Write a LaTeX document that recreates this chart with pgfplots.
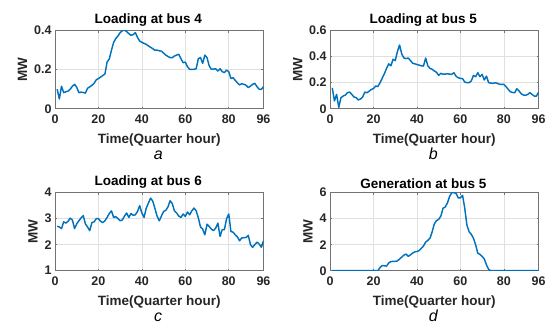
\documentclass[border=0pt]{standalone}
\usepackage{fontspec}
\setmainfont{Liberation Sans}
\usepackage{pgfplots}
\pgfplotsset{compat=1.18}
\definecolor{mblue}{RGB}{0,114,189}
\pgfplotsset{panel/.style={
  width=208.5pt, height=78pt, scale only axis,
  xmin=0, xmax=96, xtick={0,20,40,60,80,96},
  grid=major, major grid style={black!12, line width=0.5pt},
  axis line style={black!55, line width=0.6pt},
  tick style={black!55, line width=0.5pt}, tick align=inside, major tick length=2pt,
  ticklabel style={font=\fontsize{12.5}{14}\selectfont\bfseries, text=black!85},
  xticklabel style={yshift=-3pt},
  /pgf/number format/assume math mode=true,
  title style={font=\fontsize{13.5}{15}\selectfont\bfseries, xshift=-11pt, yshift=-5pt},
  xlabel={Time(Quarter hour)}, ylabel={MW},
  label style={font=\fontsize{13.5}{15}\selectfont\bfseries, text=black!85},
  xlabel style={yshift=-3pt},
  clip=true,
}}
\newcommand{\sublabel}[1]{\node[anchor=base,font=\fontsize{16}{18}\selectfont\itshape] at (axis description cs:0.495,-0.645) {#1};}
\begin{document}
\begin{tikzpicture}
\useasboundingbox (0,0) rectangle (550pt,324pt);
% a
\begin{axis}[panel, at={(55pt,215.3pt)}, anchor=south west,
  title={Loading at bus 4}, ymin=0, ymax=0.4, ytick={0,0.2,0.4},
  extra description/.code={\sublabel{a}}]
\addplot[mblue, line width=1.45pt, line join=round, no markers] table {
1 0.10
2 0.05
3 0.115
4 0.082
5 0.087
6 0.09
7 0.10
8 0.115
9 0.125
10 0.11
11 0.082
12 0.085
13 0.083
14 0.08
15 0.105
16 0.112
17 0.12
18 0.13
19 0.148
20 0.155
21 0.162
22 0.17
23 0.178
24 0.24
25 0.255
26 0.30
27 0.34
28 0.36
29 0.373
30 0.39
31 0.40
32 0.403
33 0.395
34 0.385
35 0.376
36 0.38
37 0.39
38 0.365
39 0.347
40 0.34
41 0.335
42 0.33
43 0.322
44 0.315
45 0.308
46 0.30
47 0.30
48 0.297
49 0.295
50 0.285
51 0.275
52 0.268
53 0.262
54 0.262
55 0.27
56 0.275
57 0.279
58 0.256
59 0.236
60 0.239
61 0.215
62 0.202
63 0.202
64 0.202
65 0.205
66 0.256
67 0.262
68 0.232
69 0.275
70 0.262
71 0.22
72 0.202
73 0.203
74 0.205
75 0.193
76 0.205
77 0.19
78 0.185
79 0.198
80 0.19
81 0.155
82 0.159
83 0.145
84 0.133
85 0.122
86 0.128
87 0.125
88 0.12
89 0.108
90 0.116
91 0.125
92 0.13
93 0.113
94 0.10
95 0.099
96 0.113
};
\end{axis}
% b
\begin{axis}[panel, at={(330.1pt,215.3pt)}, anchor=south west,
  title={Loading at bus 5}, ymin=0, ymax=0.6, ytick={0,0.2,0.4,0.6},
  extra description/.code={\sublabel{b}}]
\addplot[mblue, line width=1.45pt, line join=round, no markers] table {
1 0.16
2 0.06
3 0.11
4 0.01
5 0.085
6 0.097
7 0.105
8 0.123
9 0.128
10 0.11
11 0.09
12 0.085
13 0.067
14 0.075
15 0.09
16 0.128
17 0.123
18 0.135
19 0.148
20 0.155
21 0.175
22 0.17
23 0.2
24 0.235
25 0.27
26 0.31
27 0.345
28 0.33
29 0.38
30 0.37
31 0.44
32 0.49
33 0.42
34 0.39
35 0.385
36 0.39
37 0.37
38 0.35
39 0.345
40 0.34
41 0.335
42 0.33
43 0.328
44 0.39
45 0.33
46 0.31
47 0.303
48 0.29
49 0.28
50 0.256
51 0.272
52 0.265
53 0.266
54 0.269
55 0.266
56 0.264
57 0.277
58 0.25
59 0.238
60 0.233
61 0.231
62 0.205
63 0.2
64 0.2
65 0.213
66 0.256
67 0.246
68 0.277
69 0.246
70 0.264
71 0.221
72 0.25
73 0.2
74 0.197
75 0.195
76 0.2
77 0.195
78 0.188
79 0.187
80 0.187
81 0.17
82 0.149
83 0.13
84 0.125
85 0.123
86 0.154
87 0.136
88 0.115
89 0.105
90 0.103
91 0.11
92 0.123
93 0.11
94 0.097
95 0.097
96 0.128
};
\end{axis}
% c
\begin{axis}[panel, at={(55pt,53.3pt)}, anchor=south west,
  title={Loading at bus 6}, ymin=1, ymax=4, ytick={1,2,3,4},
  extra description/.code={\sublabel{c}}]
\addplot[mblue, line width=1.45pt, line join=round, no markers] table {
1 2.71
2 2.68
3 2.62
4 2.88
5 2.83
6 2.9
7 3.02
8 2.95
9 2.62
10 2.8
11 2.92
12 3.03
13 3.12
14 2.8
15 2.68
16 2.54
17 2.85
18 2.88
19 3.0
20 3.0
21 2.9
22 2.85
23 2.92
24 3.05
25 3.2
26 3.3
27 3.05
28 3.08
29 3.0
30 2.92
31 2.95
32 3.1
33 3.22
34 3.05
35 3.2
36 3.13
37 3.15
38 3.28
39 3.5
40 3.22
41 3.05
42 3.4
43 3.6
44 3.79
45 3.68
46 3.4
47 3.1
48 2.92
49 3.1
50 3.28
51 3.32
52 3.45
53 3.69
54 3.58
55 3.3
56 3.22
57 3.1
58 3.05
59 3.18
60 3.09
61 3.26
62 3.15
63 3.3
64 3.41
65 3.3
66 3.03
67 2.68
68 2.6
69 2.38
70 2.79
71 2.7
72 2.6
73 2.54
74 2.64
75 2.83
76 2.32
77 2.58
78 2.58
79 3.0
80 3.18
81 2.51
82 2.48
83 2.38
84 2.3
85 2.15
86 2.26
87 2.27
88 2.28
89 2.36
90 2.0
91 1.9
92 2.0
93 2.1
94 2.03
95 1.9
96 2.15
};
\end{axis}
% d
\begin{axis}[panel, at={(330.1pt,53.3pt)}, anchor=south west,
  title={Generation at bus 5}, ymin=0, ymax=6, ytick={0,2,4,6},
  extra description/.code={\sublabel{d}}]
\addplot[mblue, line width=1.45pt, line join=round, no markers] table {
1 0
22 0
23 0.25
24 0.4
25 0.38
26 0.35
27 0.6
28 0.7
29 0.72
30 0.72
31 0.75
32 0.9
33 1.05
34 1.2
35 1.28
36 1.1
37 1.22
38 1.35
39 1.45
40 1.48
41 1.55
42 1.72
43 1.9
44 2.2
45 2.33
46 2.5
47 3.0
48 3.6
49 3.85
50 3.95
51 4.2
52 4.8
53 4.9
54 5.2
55 5.7
56 6.0
57 6.0
58 5.95
59 5.6
60 5.6
61 5.8
62 4.8
63 3.5
64 3.0
65 2.8
66 2.5
67 2.0
68 1.35
69 1.25
70 1.1
71 0.9
72 0.45
73 0.1
74 0
96 0
};
\end{axis}
\end{tikzpicture}
\end{document}
